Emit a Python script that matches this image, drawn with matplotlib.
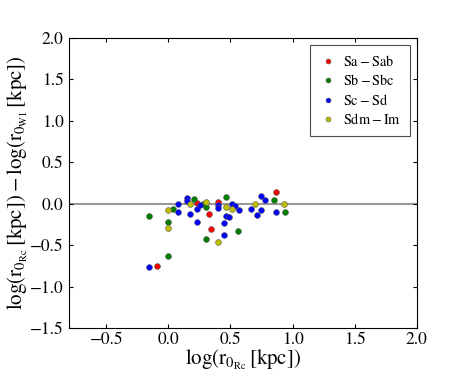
import matplotlib
matplotlib.use("Agg")
import matplotlib.pyplot as plt

plt.rcParams['font.family'] = 'serif'
plt.rcParams['font.serif'] = ['STIXGeneral', 'DejaVu Serif']
plt.rcParams['mathtext.fontset'] = 'stix'

# morphological groups: log(r0_Rc) and log(r0_Rc) - log(r0_W1)
sa_x = [-0.093, 0.233, 0.325, 0.345, 0.40, 0.867]
sa_y = [-0.756, 0.005, -0.123, -0.30, 0.02, 0.141]

sb_x = [-0.152, 0.04, 0.0, 0.0, 0.208, 0.28, 0.305, 0.305, 0.465, 0.557, 0.848, 0.936]
sb_y = [-0.153, -0.066, -0.225, -0.63, 0.06, 0.0, -0.04, -0.42, 0.086, -0.334, 0.048, -0.10]

sc_x = [-0.152, 0.08, 0.08, 0.148, 0.148, 0.178, 0.232, 0.256, 0.232, 0.40, 0.40,
        0.462, 0.49, 0.45, 0.45, 0.51, 0.535, 0.571, 0.665, 0.71, 0.743, 0.743,
        0.775, 0.867]
sc_y = [-0.764, 0.0, -0.097, 0.072, 0.032, -0.123, -0.068, -0.02, -0.225, -0.014, -0.048,
        -0.143, -0.165, -0.233, -0.382, 0.0, -0.024, -0.074, -0.06, -0.133, -0.07, 0.093,
        0.048, -0.098]

sd_x = [0.0, 0.0, 0.178, 0.302, 0.399, 0.465, 0.51, 0.70, 0.928]
sd_y = [-0.08, -0.298, 0.0, 0.024, -0.463, -0.04, -0.062, 0.0, 0.0]

xticks = [-0.5, 0.0, 0.5, 1.0, 1.5, 2.0]
yticks = [-1.5, -1.0, -0.5, 0.0, 0.5, 1.0, 1.5, 2.0]

fig = plt.figure(figsize=(4.63, 3.86), dpi=100)
ax = fig.add_axes([0.149, 0.15, 0.751, 0.752])

ax.axhline(0, color='0.6', lw=1.5, zorder=1)

groups = [(sa_x, sa_y, 'r', r'$\mathrm{Sa-Sab}$'),
          (sb_x, sb_y, 'g', r'$\mathrm{Sb-Sbc}$'),
          (sc_x, sc_y, 'b', r'$\mathrm{Sc-Sd}$'),
          (sd_x, sd_y, 'y', r'$\mathrm{Sdm-Im}$')]
for gx, gy, c, lab in groups:
    ax.plot(gx, gy, 'o', color=c, ms=4.2, mec='0.35', mew=0.4, label=lab, zorder=3)

ax.set_xlim(-0.8, 2.0)
ax.set_ylim(-1.5, 2.0)
ax.set_xticks(xticks)
ax.set_yticks(yticks)
ax.tick_params(direction='in', top=True, right=True, labelsize=12.5, length=3)
ax.tick_params(axis='x', pad=3)
ax.tick_params(axis='y', pad=4)

ax.set_xlabel(r'$\mathrm{log(r_{0_{Rc}}\,[kpc])}$', fontsize=15, labelpad=0)
ax.set_ylabel(r'$\mathrm{log(r_{0_{Rc}}\,[kpc])-log(r_{0_{W1}}\,[kpc])}$', fontsize=15, labelpad=0)

leg = ax.legend(loc='upper right', numpoints=1, fontsize=10.3, markerscale=0.85,
                fancybox=False, framealpha=1, edgecolor='0.3', borderpad=0.6,
                labelspacing=0.32, handlelength=1.3, handletextpad=0.4, borderaxespad=0.5)
leg.get_frame().set_linewidth(0.8)

fig.savefig('out.png', dpi=100)
